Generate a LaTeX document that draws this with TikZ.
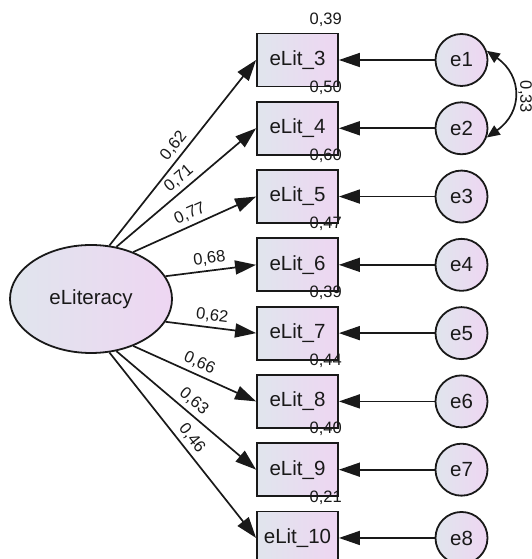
\documentclass[tikz,border=0pt]{standalone}
\usepackage{fontspec}
\setmainfont{Liberation Sans}
\usetikzlibrary{arrows.meta,shapes.geometric,calc}
\definecolor{cA}{RGB}{224,229,237}
\definecolor{cB}{RGB}{238,214,242}
\definecolor{ink}{RGB}{25,25,25}
\begin{document}
\begin{tikzpicture}[x=1pt,y=1pt,
  obs/.style={draw=ink, line width=1.8pt, minimum width=81pt, minimum height=53pt, inner sep=0pt, left color=cA, right color=cB, text=ink, font=\fontsize{20.5}{21}\selectfont},
  err/.style={circle, draw=ink, line width=1.8pt, minimum size=52pt, inner sep=0pt, left color=cA, right color=cB, text=ink, font=\fontsize{20.5}{21}\selectfont},
  lat/.style={ellipse, draw=ink, line width=1.8pt, minimum width=162pt, minimum height=108pt, inner sep=0pt, left color=cA, right color=cB, text=ink, font=\fontsize{20.5}{21}\selectfont},
  reg/.style={draw=ink, line width=1.7pt, -{Triangle[length=21pt,width=14pt]}},
  cov/.style={draw=ink, line width=1.7pt, {Triangle[length=13pt,width=11pt]}-{Triangle[length=13pt,width=11pt]}},
  num/.style={text=ink, font=\fontsize{16.5}{17}\selectfont, inner sep=0pt},
  load/.style={text=ink, font=\fontsize{16.5}{17}\selectfont, sloped, above, inner sep=4pt, pos=0.5}
]
\useasboundingbox (0,0) rectangle (532,559);
\node[lat] (L) at (91,260) {eLiteracy};
\foreach \i [count=\k] in {3,...,10} {
  \pgfmathsetmacro\Y{499-68.28*(\k-1)}
  \node[obs] (b\i) at (297.5,\Y) {eLit\_\i};
  \node[err] (e\k) at (461.5,\Y) {e\k};
  \draw[reg] (e\k) -- (b\i);
}
\foreach \i/\r in {3/{0,39},4/{0,50},5/{0,60},6/{0,47},7/{0,39},8/{0,44},9/{0,40},10/{0,21}} {
  \node[num, anchor=base east] (r\i) at ($(b\i.north east)+(3,8.5)$) {\r};
}
\foreach \i/\a/\v in {3/71/{0,62},4/64/{0,71},5/48/{0,77},6/17/{0,68},7/-17/{0,62},8/-48/{0,66},9/-64/{0,63},10/-71/{0,46}} {
  \draw[reg] (L.\a) -- node[load] {\v} (b\i.west);
}
\draw[cov] (e1.20) to[out=-35,in=35,looseness=1.3] (e2.-20);
\node[num, rotate=-90] (c12) at (525,462) {0,33};
\end{tikzpicture}
\end{document}
